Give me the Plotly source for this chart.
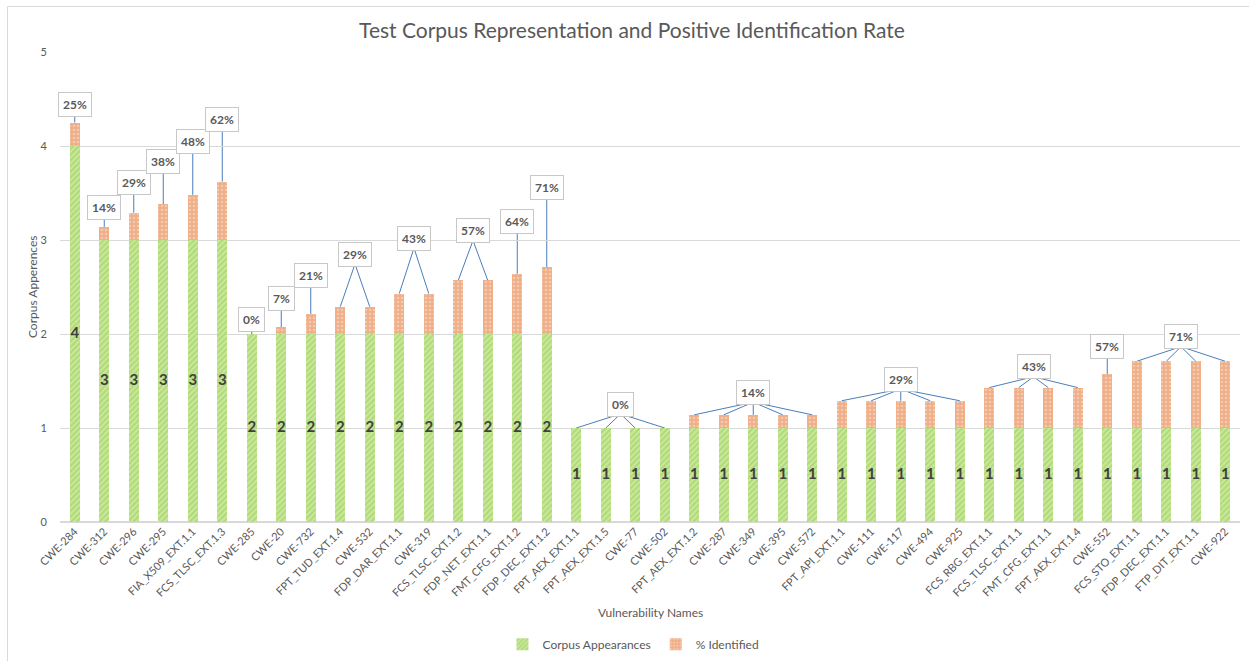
import plotly.graph_objects as go

# ---------------- data ----------------
categories = [
    "CWE-284", "CWE-312", "CWE-296", "CWE-295", "FIA_X509_EXT.1.1", "FCS_TLSC_EXT.1.3",
    "CWE-285", "CWE-20", "CWE-732", "FPT_TUD_EXT.1.4", "CWE-532", "FDP_DAR_EXT.1.1",
    "CWE-319", "FCS_TLSC_EXT.1.2", "FDP_NET_EXT.1.1", "FMT_CFG_EXT.1.2", "FDP_DEC_EXT.1.2",
    "FPT_AEX_EXT.1.1", "FPT_AEX_EXT.1.5", "CWE-77", "CWE-502", "FPT_AEX_EXT.1.2",
    "CWE-287", "CWE-349", "CWE-395", "CWE-572", "FPT_API_EXT.1.1", "CWE-111", "CWE-117",
    "CWE-494", "CWE-925", "FCS_RBG_EXT.1.1", "FCS_TLSC_EXT.1.1", "FMT_CFG_EXT.1.1",
    "FPT_AEX_EXT.1.4", "CWE-552", "FCS_STO_EXT.1.1", "FDP_DEC_EXT.1.1", "FTP_DIT_EXT.1.1",
    "CWE-922",
]
corpus_appearances = [4, 3, 3, 3, 3, 3,
                      2, 2, 2, 2, 2, 2, 2, 2, 2, 2, 2,
                      1, 1, 1, 1, 1, 1, 1, 1, 1, 1, 1, 1, 1, 1, 1, 1, 1, 1, 1, 1, 1, 1, 1]
pct_identified = [25, 14, 29, 38, 48, 62,
                  0, 7, 21, 29, 29, 43, 43, 57, 57, 64, 71,
                  0, 0, 0, 0, 14, 14, 14, 14, 14, 29, 29, 29, 29, 29,
                  43, 43, 43, 43, 57, 71, 71, 71, 71]
y_ticks = [0, 1, 2, 3, 4, 5]

# ---------------- layout / style (not data) ----------------
# vertical offset (axis units) of each merged data-label box above its group's top
label_offsets = [0.19, 0.21, 0.32, 0.46, 0.57, 0.66,
                 0.15, 0.31, 0.41, 0.56, 0.59, 0.53, 0.56, 0.85,
                 0.255, 0.24, 0.23, 0.22, 0.30, 0.26]
FONT = "Lato"
GREY = "#595959"
LEADER = "#4a7ebb"

n = len(categories)
xs = list(range(n))
fracs = [p / 100 for p in pct_identified]

fig = go.Figure()
fig.add_trace(go.Bar(
    x=xs, y=corpus_appearances, name="Corpus Appearances", width=0.34,
    marker=dict(color="#c9e79c", line=dict(width=0),
                pattern=dict(shape="/", fgcolor="#8fcb45", bgcolor="#c9e79c", size=4, solidity=0.45)),
    hoverinfo="skip",
))
fig.add_trace(go.Bar(
    x=xs, y=fracs, name="% Identified", width=0.34,
    marker=dict(color="#f3b995", line=dict(width=0),
                pattern=dict(shape=".", fgcolor="#fbe3d3", bgcolor="#efae87", size=4, solidity=0.35)),
    hoverinfo="skip",
))
# value labels centred in green segments
fig.add_trace(go.Scatter(
    x=xs, y=[v / 2 for v in corpus_appearances], mode="text",
    text=[f"<b>{v}</b>" for v in corpus_appearances],
    textfont=dict(family=FONT, size=15, color="#404040"),
    showlegend=False, hoverinfo="skip",
))

# group consecutive bars that share (corpus, pct) -> one merged label with leader lines
groups = []
start = 0
for i in range(1, n + 1):
    if i == n or (corpus_appearances[i], pct_identified[i]) != (corpus_appearances[start], pct_identified[start]):
        groups.append(list(range(start, i)))
        start = i

annotations = []
shapes = []
for g, off in zip(groups, label_offsets):
    tops = [corpus_appearances[i] + fracs[i] for i in g]
    lx = sum(g) / len(g)
    ly = max(tops) + off
    annotations.append(dict(
        x=lx, y=ly, xref="x", yref="y", text=f"<b>{pct_identified[g[0]]}%</b>",
        showarrow=False, font=dict(family=FONT, size=12, color=GREY),
        bgcolor="white", bordercolor="#c8c8c8", borderwidth=1, borderpad=4,
    ))
    for i, t in zip(g, tops):
        shapes.append(dict(type="line", xref="x", yref="y", x0=lx, y0=ly - 0.105, x1=i, y1=t,
                           line=dict(color=LEADER, width=1), layer="below"))

# chart frame (top and left edges visible)
shapes.append(dict(type="rect", xref="paper", yref="paper", x0=-0.0445, y0=-0.35, x1=1.05, y1=1.0968,
                   line=dict(color="#d9d9d9", width=1), fillcolor="rgba(0,0,0,0)", layer="below"))

annotations.append(dict(text="Corpus Apperences", xref="paper", yref="paper", x=-0.0237, y=0.5,
                        textangle=-90, showarrow=False, xanchor="center", yanchor="middle",
                        font=dict(family=FONT, size=12, color=GREY)))
annotations.append(dict(text="Vulnerability Names", xref="paper", yref="paper", x=0.5, y=-0.1915,
                        showarrow=False, xanchor="center", yanchor="middle",
                        font=dict(family=FONT, size=12, color=GREY)))

fig.update_layout(
    width=1249, height=661,
    margin=dict(l=60, r=9, t=52, b=139, autoexpand=False),
    paper_bgcolor="white", plot_bgcolor="white",
    barmode="stack",
    title=dict(text="Test Corpus Representation and Positive Identification Rate",
               x=0.4847, xref="paper", xanchor="center", y=0.953, yanchor="middle",
               font=dict(family=FONT, size=21, color=GREY)),
    xaxis=dict(range=[-0.5, n - 0.5], tickmode="array", tickvals=xs, ticktext=categories,
               tickangle=-45, tickfont=dict(family=FONT, size=11, color=GREY),
               showgrid=False, zeroline=False, showline=False, ticks="", automargin=False),
    yaxis=dict(range=[0, 5], tickmode="array", tickvals=y_ticks,
               tickfont=dict(family=FONT, size=11, color=GREY),
               showgrid=True, gridcolor="#d9d9d9", gridwidth=1, zeroline=True, zerolinecolor="#d9d9d9",
               ticks="outside", ticklen=10, tickcolor="rgba(0,0,0,0)", automargin=False),
    legend=dict(orientation="h", x=0.486, xanchor="center", y=-0.26, yanchor="middle",
                traceorder="normal",
                font=dict(family=FONT, size=12, color=GREY), itemwidth=30, tracegroupgap=0),
    annotations=annotations, shapes=shapes,
    bargap=0.66,
)

fig.write_html("out.html", config={"displayModeBar": False},
               post_script="document.body.style.margin='0';document.body.style.overflow='hidden';")
